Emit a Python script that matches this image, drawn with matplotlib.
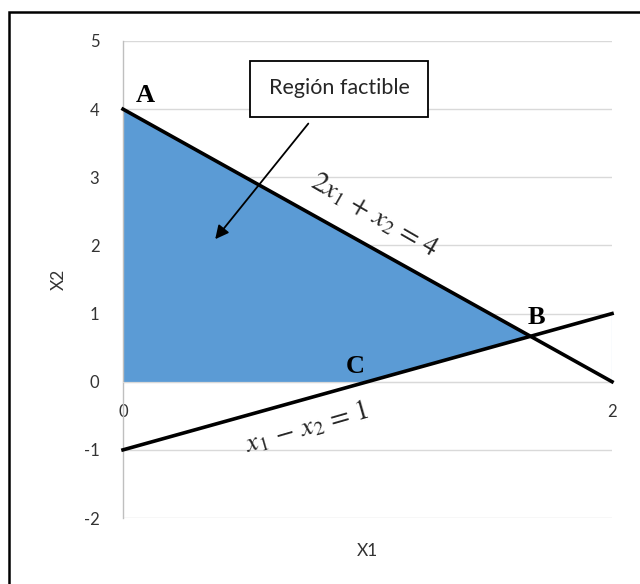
import matplotlib.pyplot as plt
from matplotlib.patches import Rectangle, Polygon

# data
x_ends = [0, 2]
line1_y = [4, 0]      # 2x1 + x2 = 4
line2_y = [-1, 1]     # x1 - x2 = 1
region_x = [0, 0, 1.667, 1]
region_y = [0, 4, 0.667, 0]
point_names = ['A', 'B', 'C']
point_x = [0.09, 1.69, 0.95]
point_y = [4.20, 0.94, 0.22]
y_ticks = [-2, -1, 0, 1, 2, 3, 4, 5]
x_ticks = [0, 2]

plt.rcParams['font.family'] = ['Lato', 'DejaVu Sans']
plt.rcParams['mathtext.fontset'] = 'stix'
plt.rcParams['axes.unicode_minus'] = False

fig = plt.figure(figsize=(6.4, 5.84), dpi=100)
ax = fig.add_axes([0.1922, 0.1130, 0.7641, 0.8168])

# outer frame (runs off the right and bottom edges)
fig.patches.append(Rectangle((0.0133, -0.2), 1.2, 1.1795, transform=fig.transFigure,
                             fill=False, edgecolor='black', linewidth=1.8))

ax.set_xlim(0, 2)
ax.set_ylim(-2, 5)
ax.set_yticks(y_ticks)
ax.set_xticks(x_ticks)
ax.grid(axis='y', color='#d9d9d9', linewidth=1.0)
ax.set_axisbelow(True)

for s in ['top', 'right']:
    ax.spines[s].set_visible(False)
ax.spines['left'].set_color('#bfbfbf')
ax.spines['left'].set_linewidth(1.0)
ax.spines['bottom'].set_position(('data', 0))
ax.spines['bottom'].set_color('#d9d9d9')
ax.tick_params(axis='both', length=0, labelsize=12, labelcolor='#333333')
ax.tick_params(axis='y', pad=17)
ax.tick_params(axis='x', pad=16)

# feasible region
ax.add_patch(Polygon(list(zip(region_x, region_y)), closed=True,
                     facecolor='#5b9bd5', edgecolor='#5b9bd5', linewidth=0.8, zorder=2))
ax.plot([x_ends[1], x_ends[1]], [0, 1], color='#9dc3e6', linewidth=0.8, zorder=2)

ax.plot(x_ends, line1_y, color='black', linewidth=2.6, zorder=3, clip_on=False)
ax.plot(x_ends, line2_y, color='black', linewidth=2.6, zorder=3, clip_on=False)

for name, px, py in zip(point_names, point_x, point_y):
    ax.text(px, py, name, family='Liberation Serif', fontweight='bold', fontsize=19,
            ha='center', va='center', zorder=4)

ax.text(1.03, 2.44, r'$2x_1\,+\,x_2\,=\,4$', fontsize=20, rotation=-30,
        ha='center', va='center', color='#262626', zorder=4)
ax.text(0.75, -0.66, r'$x_1\,-\,x_2\,=\,1$', fontsize=20, rotation=16,
        ha='center', va='center', color='#262626', zorder=4)

# label box with arrow
ax.add_patch(Rectangle((0.52, 3.88), 0.727, 0.83, facecolor='white',
                       edgecolor='black', linewidth=1.3, zorder=5))
ax.text(0.885, 4.31, 'Región factible', fontsize=15.5, color='#262626',
        ha='center', va='center', zorder=6)
ax.annotate('', xy=(0.37, 2.06), xytext=(0.765, 3.82),
            arrowprops=dict(arrowstyle='-|>', color='black', lw=1.3,
                            mutation_scale=20), zorder=6)

ax.set_xlabel('X1', fontsize=12.5, color='#333333')
ax.set_ylabel('X2', fontsize=12.5, color='#333333')
ax.xaxis.set_label_coords(0.5, -0.053)
ax.yaxis.set_label_coords(-0.115, 0.5)

fig.savefig('out.png', dpi=100)
